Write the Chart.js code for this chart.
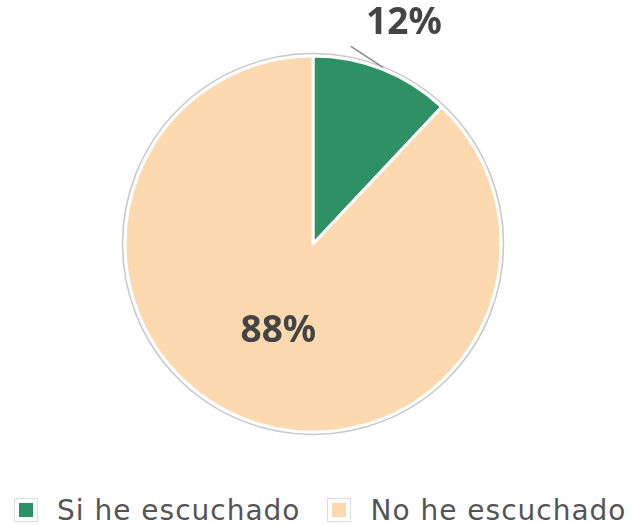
<!DOCTYPE html>
<html>
<head>
<meta charset="utf-8">
<script src="https://cdn.jsdelivr.net/npm/chart.js@4.4.1/dist/chart.umd.min.js"></script>
<style>
    html, body { margin: 0; padding: 0; background: #ffffff; }
    #wrap { width: 638px; height: 525px; position: relative; overflow: hidden; }
    #chartBox { position: absolute; left: 0; top: 0; width: 638px; height: 488px; }
    #legend {
        position: absolute; left: 15px; top: 498px; height: 24px; width: 660px;
        display: flex; align-items: center; white-space: nowrap;
        font-family: "DejaVu Sans", sans-serif; font-size: 28px; letter-spacing: 1px; color: #555555;
    }
    .item { display: flex; align-items: center; margin-right: 28px; flex-shrink: 0; }
    .box {
        width: 14px; height: 14px; border: 4px solid #ffffff; flex-shrink: 0;
        outline: 1px solid #dddddd; margin-right: 20px; box-sizing: content-box;
    }
</style>
</head>
<body>
<div id="wrap">
    <div id="chartBox"><canvas id="pieChart"></canvas></div>
    <div id="legend"></div>
</div>
<script>
    // Chart data
    const categories = ['Si he escuchado', 'No he escuchado'];
    const values = [12, 88];
    const sliceColors = ['#2e9163', '#fcd9ae'];

    // Percent labels + leader line + outer ring
    const pieLabels = {
        id: 'pieLabels',
        afterDatasetsDraw(chart) {
            const ctx = chart.ctx;
            const arcs = chart.getDatasetMeta(0).data;
            const total = values.reduce((a, b) => a + b, 0);

            // thin gray ring around the pie
            const first = arcs[0];
            ctx.save();
            ctx.beginPath();
            ctx.arc(first.x, first.y, first.outerRadius + 2.5, 0, Math.PI * 2);
            ctx.strokeStyle = '#c8c8c8';
            ctx.lineWidth = 1.5;
            ctx.stroke();
            ctx.restore();

            arcs.forEach((arc, i) => {
                const pct = Math.round(values[i] / total * 100) + '%';
                const mid = (arc.startAngle + arc.endAngle) / 2;
                ctx.save();
                ctx.fillStyle = '#444444';
                ctx.font = 'bold 37px "Noto Sans", sans-serif';
                ctx.textAlign = 'center';
                ctx.textBaseline = 'middle';
                if (values[i] / total < 0.2) {
                    // small slice: label outside with leader line
                    const px = arc.x + Math.cos(mid) * (arc.outerRadius + 2);
                    const py = arc.y + Math.sin(mid) * (arc.outerRadius + 2);
                    ctx.beginPath();
                    ctx.moveTo(px, py);
                    ctx.lineTo(px - 32, py - 21);
                    ctx.strokeStyle = '#888888';
                    ctx.lineWidth = 1.5;
                    ctx.stroke();
                    ctx.fillText(pct, px + 21, py - 44);
                } else {
                    const r = arc.outerRadius * 0.5;
                    ctx.fillText(pct, arc.x + Math.cos(mid) * r, arc.y + Math.sin(mid) * r);
                }
                ctx.restore();
            });
        }
    };

    new Chart(document.getElementById('pieChart'), {
        type: 'pie',
        data: {
            labels: categories,
            datasets: [{
                data: values,
                backgroundColor: sliceColors,
                borderColor: '#ffffff',
                borderWidth: 3,
                radius: 188
            }]
        },
        options: {
            responsive: true,
            maintainAspectRatio: false,
            animation: false,
            layout: {
                padding: { top: 0, right: 12, left: 0, bottom: 0 }
            },
            plugins: {
                tooltip: { enabled: false },
                legend: { display: false }
            }
        },
        plugins: [pieLabels]
    });

    // Legend
    const legend = document.getElementById('legend');
    categories.forEach((c, i) => {
        const item = document.createElement('div');
        item.className = 'item';
        const box = document.createElement('span');
        box.className = 'box';
        box.style.background = sliceColors[i];
        const label = document.createElement('span');
        label.textContent = c;
        item.appendChild(box);
        item.appendChild(label);
        legend.appendChild(item);
    });
</script>
</body>
</html>
